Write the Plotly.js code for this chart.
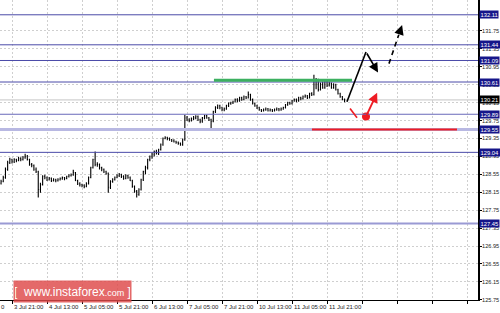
<!DOCTYPE html>
<html><head><meta charset="utf-8">
<script src="https://cdn.plot.ly/plotly-3.0.1.min.js"></script>
<style>html,body{margin:0;padding:0;background:#fff}#chart{width:500px;height:313px}</style>
</head><body><div id="chart"></div>
<script>
// ---- data (hourly bars, bar index = hours from 3 Jul 05:00, trading hours only) ----
const firstBarIndex = 11;
const openP = [128.35,128.39,128.48,128.66,128.81,128.88,128.83,128.88,128.86,128.90,128.88,128.92,128.95,128.88,128.77,128.75,128.66,128.61,128.21,128.32,128.50,128.48,128.43,128.46,128.41,128.43,128.41,128.43,128.46,128.48,128.46,128.50,128.52,128.54,128.59,128.41,128.34,128.32,128.30,128.28,128.34,128.48,128.70,128.88,128.77,128.77,128.70,128.66,128.61,128.57,128.26,128.39,128.43,128.48,128.52,128.54,128.50,128.46,128.52,128.48,128.41,128.28,128.17,128.10,128.21,128.43,128.61,128.70,128.88,128.95,128.99,129.06,129.01,129.10,129.21,129.35,129.37,129.35,129.32,129.30,129.28,129.26,129.24,129.21,129.32,129.81,129.77,129.75,129.79,129.81,129.84,129.77,129.73,129.81,129.86,129.81,129.77,129.73,129.95,130.04,130.08,130.04,129.99,130.01,130.08,130.13,130.15,130.17,130.22,130.19,130.26,130.22,130.28,130.26,130.33,130.22,130.13,130.08,130.04,129.99,129.97,129.99,130.01,129.97,129.99,129.97,129.99,130.01,129.99,130.01,130.04,130.10,130.15,130.13,130.19,130.22,130.19,130.26,130.24,130.28,130.30,130.26,130.35,130.33,130.55,130.66,130.44,130.55,130.48,130.62,130.53,130.57,130.48,130.55,130.44,130.35,130.28,130.22];
const highP = [128.43,128.52,128.70,128.85,128.92,128.90,128.91,128.90,128.94,128.93,128.96,129.01,128.98,128.90,128.80,128.77,128.70,128.63,128.36,128.53,128.54,128.50,128.49,128.48,128.46,128.45,128.46,128.48,128.50,128.49,128.52,128.55,128.57,128.65,128.60,128.43,128.37,128.34,128.33,128.37,128.50,128.72,128.90,129.06,128.82,128.79,128.72,128.68,128.63,128.59,128.42,128.46,128.50,128.55,128.58,128.56,128.53,128.55,128.54,128.50,128.43,128.30,128.20,128.24,128.45,128.63,128.74,128.90,128.97,129.03,129.08,129.10,129.12,129.24,129.37,129.40,129.39,129.37,129.34,129.33,129.30,129.28,129.26,129.35,129.88,129.85,129.80,129.82,129.85,129.87,129.86,129.79,129.83,129.88,129.88,129.83,129.79,129.97,130.07,130.11,130.10,130.06,130.04,130.10,130.15,130.17,130.19,130.24,130.25,130.28,130.28,130.31,130.30,130.40,130.35,130.24,130.15,130.10,130.06,130.01,130.02,130.04,130.03,130.02,130.01,130.02,130.04,130.03,130.04,130.06,130.12,130.17,130.17,130.21,130.24,130.24,130.28,130.28,130.31,130.33,130.32,130.37,130.38,130.77,130.70,130.68,130.60,130.62,130.65,130.64,130.62,130.60,130.58,130.57,130.46,130.37,130.30,130.24];
const lowP = [128.32,128.37,128.45,128.63,128.78,128.79,128.80,128.82,128.84,128.84,128.86,128.90,128.86,128.74,128.71,128.63,128.58,128.03,128.14,128.30,128.44,128.40,128.41,128.38,128.39,128.37,128.39,128.41,128.43,128.42,128.44,128.48,128.50,128.52,128.40,128.31,128.28,128.26,128.24,128.26,128.32,128.46,128.68,128.73,128.72,128.66,128.62,128.58,128.54,128.14,128.22,128.36,128.41,128.46,128.49,128.47,128.43,128.44,128.45,128.40,128.25,128.14,128.03,128.07,128.19,128.40,128.55,128.66,128.84,128.90,128.95,128.99,128.98,129.08,129.19,129.33,129.31,129.30,129.27,129.26,129.23,129.21,129.19,129.19,129.30,129.74,129.71,129.73,129.76,129.78,129.74,129.69,129.70,129.78,129.79,129.74,129.55,129.71,129.92,130.01,130.00,129.96,129.96,129.99,130.05,130.10,130.12,130.15,130.16,130.17,130.19,130.20,130.23,130.24,130.19,130.11,130.06,130.01,129.97,129.94,129.95,129.97,129.95,129.95,129.94,129.95,129.97,129.96,129.97,129.99,130.02,130.08,130.10,130.11,130.17,130.16,130.17,130.20,130.22,130.26,130.23,130.24,130.30,130.31,130.45,130.40,130.42,130.46,130.46,130.50,130.51,130.46,130.46,130.42,130.33,130.26,130.20,130.16];
const closeP = [128.39,128.48,128.66,128.81,128.88,128.83,128.88,128.86,128.90,128.88,128.92,128.95,128.88,128.77,128.75,128.66,128.61,128.21,128.32,128.50,128.48,128.43,128.46,128.41,128.43,128.41,128.43,128.46,128.48,128.46,128.50,128.52,128.54,128.59,128.41,128.34,128.32,128.30,128.28,128.34,128.48,128.70,128.88,128.77,128.77,128.70,128.66,128.61,128.57,128.26,128.39,128.43,128.48,128.52,128.54,128.50,128.46,128.52,128.48,128.41,128.28,128.17,128.10,128.21,128.43,128.61,128.70,128.88,128.95,128.99,129.06,129.01,129.10,129.21,129.35,129.37,129.35,129.32,129.30,129.28,129.26,129.24,129.21,129.32,129.81,129.77,129.75,129.79,129.81,129.84,129.77,129.73,129.81,129.86,129.81,129.77,129.73,129.95,130.04,130.08,130.04,129.99,130.01,130.08,130.13,130.15,130.17,130.22,130.19,130.26,130.22,130.28,130.26,130.33,130.22,130.13,130.08,130.04,129.99,129.97,129.99,130.01,129.97,129.99,129.97,129.99,130.01,129.99,130.01,130.04,130.10,130.15,130.13,130.19,130.22,130.19,130.26,130.24,130.28,130.30,130.26,130.35,130.33,130.55,130.66,130.44,130.55,130.48,130.62,130.53,130.57,130.48,130.55,130.44,130.35,130.28,130.22,130.21];

const xTickVals = [16,32,48,64,80,96,112,128,144,160,176,192,208,224];
const xTickText = ['3 Jul 21:00','4 Jul 13:00','5 Jul 05:00','5 Jul 21:00','6 Jul 13:00','7 Jul 05:00','7 Jul 21:00','10 Jul 13:00','11 Jul 05:00','11 Jul 21:00','','','',''];
const yTickVals = [125.75,126.15,126.55,126.95,127.35,127.75,128.15,128.55,128.95,129.35,129.75,130.15,130.55,130.95,131.35,131.75];

const levelPrices = [132.11,131.44,131.09,130.61,129.89,129.55,129.04,127.45];
const currentPrice = 130.21;
const resistancePrice = 130.65;   // green line
const supportPrice = 129.55;      // red line
// forecast path (bar index, price)
const blackPathX = [169.1,177.8,183.3];
const blackPathY = [130.17,131.28,130.82];
const dashPathX = [188.3,194.3];
const dashPathY = [131.02,131.88];
const redDashX = [170.5,173.7];
const redDashY = [130.02,129.81];
const redPathX = [177.8,182.9];
const redPathY = [129.84,130.37];

// ---- styles ----
const levelStyle = [
  {c:'#4a4aa8',w:1},{c:'#4a4aa8',w:1},{c:'#4a4aa8',w:1},{c:'#4a4aa8',w:1},
  {c:'#6a6abb',w:1},{c:'#b8b8e2',w:3},{c:'#4a4aa8',w:1},{c:'#9a9ad4',w:2}
];
const smallFont = {family:'Liberation Sans, Arial',size:6,color:'#222'};
const axisFont = {family:'Liberation Sans, Arial',size:5.6,color:'#222'};

const xs = openP.map((_,k)=>firstBarIndex+k);

const traces = [
  {type:'ohlc', x:xs, open:openP, high:highP, low:lowP, close:closeP,
   increasing:{line:{color:'#000',width:1.1}}, decreasing:{line:{color:'#000',width:1.1}},
   tickwidth:0.3, hoverinfo:'skip', showlegend:false},
  {type:'scatter', mode:'markers', x:[redPathX[0]], y:[redPathY[0]],
   marker:{color:'#ee1c24',size:8}, hoverinfo:'skip', showlegend:false}
];

const shapes = [];
shapes.push({type:'line',xref:'paper',x0:0,x1:1,yref:'y',y0:currentPrice,y1:currentPrice,
  line:{color:'#c4c4c4',width:1},layer:'below'});
levelPrices.forEach((p,i)=>{
  shapes.push({type:'line',xref:'paper',x0:0,x1:1,yref:'y',y0:p,y1:p,
    line:{color:levelStyle[i].c,width:levelStyle[i].w},layer:'above'});
});
shapes.push({type:'line',xref:'x',yref:'y',x0:108.3,x1:171.4,y0:resistancePrice,y1:resistancePrice,
  line:{color:'#3cb060',width:3}});
shapes.push({type:'line',xref:'x',yref:'y',x0:153.1,x1:219.4,y0:supportPrice,y1:supportPrice,
  line:{color:'#ee1c24',width:2}});
shapes.push({type:'line',xref:'x',yref:'y',x0:blackPathX[0],y0:blackPathY[0],x1:blackPathX[1],y1:blackPathY[1],
  line:{color:'#000',width:1.6}});
shapes.push({type:'line',xref:'x',yref:'y',x0:dashPathX[0],y0:dashPathY[0],
  x1:dashPathX[0]+(dashPathX[1]-dashPathX[0])*0.75,y1:dashPathY[0]+(dashPathY[1]-dashPathY[0])*0.75,
  line:{color:'#000',width:1.6,dash:'5px,4px'}});
shapes.push({type:'line',xref:'x',yref:'y',x0:redDashX[0],y0:redDashY[0],x1:redDashX[1],y1:redDashY[1],
  line:{color:'#ee1c24',width:1.6}});

const annotations = [];
annotations.push({x:blackPathX[2],y:blackPathY[2],ax:blackPathX[1],ay:blackPathY[1],xref:'x',yref:'y',axref:'x',ayref:'y',
  text:'',showarrow:true,arrowhead:2,arrowsize:1.2,arrowwidth:1.6,arrowcolor:'#000'});
annotations.push({x:dashPathX[1],y:dashPathY[1],ax:dashPathX[0]+(dashPathX[1]-dashPathX[0])*0.85,ay:dashPathY[0]+(dashPathY[1]-dashPathY[0])*0.85,
  xref:'x',yref:'y',axref:'x',ayref:'y',text:'',showarrow:true,arrowhead:2,arrowsize:1.2,arrowwidth:1.6,arrowcolor:'#000'});
annotations.push({x:redPathX[1],y:redPathY[1],ax:redPathX[0],ay:redPathY[0],xref:'x',yref:'y',axref:'x',ayref:'y',
  text:'',showarrow:true,arrowhead:2,arrowsize:1.1,arrowwidth:1.8,arrowcolor:'#ee1c24'});
levelPrices.forEach(p=>{
  annotations.push({xref:'paper',x:1,xanchor:'left',xshift:1,yref:'y',y:p,yanchor:'middle',
    text:p.toFixed(2),showarrow:false,bgcolor:'#16168a',borderpad:0.5,
    font:{family:'Liberation Sans, Arial',size:5.8,color:'#fff'}});
});
annotations.push({xref:'paper',x:1,xanchor:'left',xshift:1,yref:'y',y:currentPrice,yanchor:'middle',
  text:currentPrice.toFixed(2),showarrow:false,bgcolor:'#000',borderpad:0.5,
  font:{family:'Liberation Sans, Arial',size:5.8,color:'#fff'}});
// x tick labels, left-aligned at each tick
xTickVals.forEach((v,i)=>{
  if(!xTickText[i]) return;
  annotations.push({xref:'x',x:v,xanchor:'left',xshift:1,yref:'paper',y:0,yanchor:'top',yshift:-3,
    text:xTickText[i],showarrow:false,font:smallFont,borderpad:0});
});
annotations.push({xref:'paper',x:0,xanchor:'left',yref:'paper',y:0,yanchor:'top',yshift:-3,
  text:'0',showarrow:false,font:smallFont,borderpad:0});
annotations.push({xref:'paper',x:13/478,xanchor:'left',yref:'paper',y:-3/300,yanchor:'bottom',
  width:115,height:19,borderpad:1,bgcolor:'rgba(222,72,72,0.82)',showarrow:false,align:'center',
  text:'[  www.instaforex<span style="font-size:9px">.com</span> ]',
  font:{family:'Liberation Sans, Arial',size:12,color:'#fff'}});

const layout = {
  width:500,height:313,
  margin:{l:0,r:22,t:0,b:13,pad:0},
  paper_bgcolor:'#fff',plot_bgcolor:'#fff',
  showlegend:false,
  xaxis:{range:[10.51,229.0],tickmode:'array',tickvals:xTickVals,showticklabels:false,
    showgrid:true,gridcolor:'#cfcfcf',griddash:'2px,2px',gridwidth:1,
    ticks:'outside',ticklen:3,tickcolor:'#000',tickwidth:1,
    showline:true,linecolor:'#000',linewidth:1,zeroline:false,
    rangeslider:{visible:false},fixedrange:true},
  yaxis:{range:[125.745,132.44],side:'right',tickmode:'array',tickvals:yTickVals,
    ticktext:yTickVals.map(v=>v.toFixed(2)),
    showgrid:true,gridcolor:'#cfcfcf',griddash:'2px,2px',gridwidth:1,
    ticks:'outside',ticklen:2,tickcolor:'#000',tickwidth:1,ticklabelstandoff:-1,
    showline:true,linecolor:'#000',linewidth:2,zeroline:false,
    tickfont:axisFont,fixedrange:true},
  shapes:shapes,annotations:annotations
};
Plotly.newPlot('chart',traces,layout,{displayModeBar:false,staticPlot:true});
</script></body></html>
